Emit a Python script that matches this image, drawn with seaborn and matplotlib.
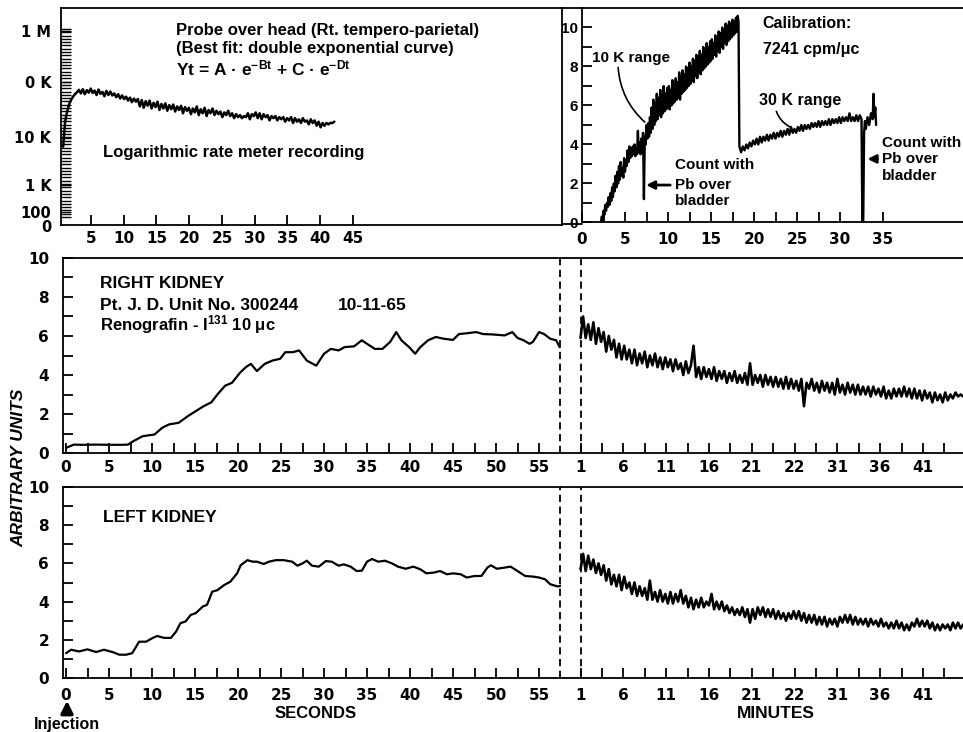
import numpy as np
import matplotlib
matplotlib.use("Agg")
import matplotlib.pyplot as plt
from matplotlib.lines import Line2D
from matplotlib.patches import FancyArrowPatch
from matplotlib.ticker import FixedLocator, NullFormatter
import seaborn as sns

# DATA
# probe over head, logarithmic rate meter (thousands of counts), sampled 0.75 .. 42.15
head_k = [
    6.3, 19, 29, 39, 47, 54, 60, 65, 72, 62,
    74, 60, 71, 64, 76, 63, 70, 58, 73, 61,
    66, 55, 69, 58, 67, 57, 62, 53, 60, 50,
    57, 49, 54, 46, 52, 43, 50, 44, 49, 36,
    47, 34, 45, 37, 46, 33, 42, 35, 44, 31,
    40, 33, 41, 30, 38, 32, 39, 29, 36, 31,
    37, 27, 35, 30, 34, 26, 33, 28, 36, 25,
    32, 27, 34, 24, 31, 27, 33, 25, 30, 26,
    29, 23, 28, 25, 30, 24, 27, 22, 26, 23,
    25, 22, 24, 23, 27, 21, 26, 24, 28, 22,
    27, 21, 26, 23, 25, 20, 24, 22, 24, 20,
    23, 21, 23, 19, 22, 20, 23, 18, 22, 19,
    21, 18, 22, 19, 20, 17, 21, 18, 20, 16,
    19, 15, 18, 16, 18, 17, 18, 18, 19]
head_start, head_end = 0.75, 42.15
meter_ticks = [0, 100, 1e3, 1e4, 1e5, 1e6]
meter_labels = ["0", "100", "1 K", "10 K", "0 K", "1 M"]

# calibration recording, 10 K range (2.2 .. 18.2 min)
range10k = [
    0.0, 0.3, 0.1, 0.6, 0.4, 0.9, 0.6, 1.0, 0.8, 1.3,
    0.9, 1.5, 1.1, 1.8, 1.3, 2.0, 1.6, 2.4, 1.8, 2.6,
    2.0, 2.9, 2.2, 3.1, 2.4, 2.8, 2.3, 3.3, 2.6, 3.2,
    2.9, 3.7, 3.1, 3.9, 3.3, 3.8, 3.4, 3.9, 3.5, 4.0,
    3.4, 3.8, 3.5, 4.7, 3.6, 4.1, 3.5, 4.3, 3.6, 4.6,
    1.2, 4.4, 4.0, 5.0, 4.3, 5.1, 4.4, 5.4, 4.6, 5.9,
    4.8, 6.3, 5.0, 6.1, 5.2, 6.6, 5.3, 6.4, 5.5, 6.8,
    5.4, 6.5, 5.6, 7.0, 5.7, 6.6, 5.8, 6.9, 5.9, 7.0,
    5.8, 6.8, 6.0, 7.3, 6.1, 7.1, 6.2, 7.4, 6.3, 7.2,
    6.4, 7.7, 6.3, 7.5, 6.6, 7.8, 6.7, 7.6, 6.8, 8.0,
    6.9, 7.9, 7.0, 8.2, 7.1, 8.0, 7.3, 8.4, 7.2, 8.3,
    7.5, 8.6, 7.4, 8.5, 7.7, 8.8, 7.6, 8.6, 7.8, 9.0,
    7.9, 8.8, 8.0, 9.2, 8.1, 9.0, 8.2, 9.3, 8.3, 9.4,
    8.4, 9.2, 8.6, 9.6, 8.5, 9.5, 8.8, 9.8, 8.7, 9.7,
    9.0, 10.0, 8.9, 9.9, 9.2, 10.2, 9.1, 10.1, 9.3, 10.3,
    9.4, 10.2, 9.5, 10.4, 9.6, 10.3, 9.7, 10.5, 9.8, 10.6,
    10.3]
# 30 K range (18.3 .. 32.5 min)
range30k = [
    3.9, 3.6, 3.9, 3.7, 4.0, 3.8, 4.1, 3.9, 4.2, 4.0,
    4.3, 4.0, 4.4, 4.1, 4.4, 4.2, 4.5, 4.2, 4.5, 4.3,
    4.6, 4.3, 4.6, 4.4, 4.7, 4.4, 4.7, 4.5, 4.8, 4.5,
    4.9, 4.6, 4.8, 4.6, 4.9, 4.7, 5.0, 4.7, 5.0, 4.8,
    5.0, 4.8, 5.1, 4.9, 5.1, 4.9, 5.2, 4.9, 5.2, 5.0,
    5.2, 5.0, 5.3, 5.0, 5.3, 5.1, 5.3, 5.1, 5.4, 5.1,
    5.4, 5.2, 5.4, 5.2, 5.6, 5.2, 5.4, 5.2, 5.5, 5.2,
    5.5, 5.3]
# second Pb count and end of the recording
tail_t = [32.6, 32.7, 32.8, 32.9, 33.0, 33.2, 33.4, 33.6, 33.8, 33.9, 34.0, 34.1, 34.2]
tail_v = [0.0, 0.1, 4.6, 5.2, 4.8, 5.4, 5.0, 5.6, 5.3, 6.6, 5.4, 5.9, 5.0]

# right kidney, seconds
rk_sec_t = [0, 0.9, 2, 3.5, 5, 6.5, 7.2, 7.8, 8.9, 10.3, 11.2, 12.0, 13.1, 14.2, 15.1, 16.0,
            16.9, 17.6, 18.5, 19.3, 20.2, 20.9, 21.5, 22.2, 23.1, 24.0, 24.9, 25.5, 26.4,
            27.1, 28.0, 29.1, 30.0, 30.8, 31.7, 32.4, 33.5, 34.4, 35.0, 35.9, 36.8, 37.7,
            38.4, 39.0, 39.9, 40.6, 41.2, 42.1, 43.0, 43.9, 45.0, 45.7, 46.8, 47.7, 48.5,
            49.6, 51.0, 51.9, 52.5, 53.2, 53.9, 54.3, 55.0, 55.6, 56.3, 57.0, 57.4]
rk_sec_v = [0.26, 0.43, 0.42, 0.43, 0.42, 0.42, 0.43, 0.6, 0.86, 0.95, 1.3, 1.47, 1.55, 1.9,
            2.15, 2.4, 2.6, 3.0, 3.45, 3.6, 4.1, 4.4, 4.57, 4.2, 4.57, 4.74, 4.83, 5.17, 5.17,
            5.26, 4.74, 4.48, 5.09, 5.34, 5.26, 5.43, 5.47, 5.78, 5.6, 5.34, 5.34, 5.7, 6.2,
            5.78, 5.43, 5.09, 5.43, 5.78, 5.95, 5.86, 5.8, 6.1, 6.15, 6.2, 6.1, 6.08, 6.03,
            6.2, 5.9, 5.78, 5.6, 5.7, 6.2, 6.1, 5.86, 5.78, 5.43]
# right kidney, minutes (sampled 1.0 .. 45.7)
rk_min = [
    5.9, 7.0, 5.9, 6.6, 5.8, 6.7, 5.6, 6.4, 5.7, 6.2,
    5.2, 6.0, 5.3, 5.8, 4.9, 5.6, 4.8, 5.5, 4.8, 5.3,
    4.6, 5.3, 4.5, 5.1, 4.6, 5.2, 4.4, 5.0, 4.5, 5.1,
    4.4, 4.9, 4.3, 4.9, 4.4, 4.8, 4.2, 4.8, 4.3, 4.6,
    4.0, 4.7, 4.1, 4.5, 5.5, 3.9, 4.4, 3.8, 4.4, 3.9,
    4.3, 3.8, 4.4, 3.7, 4.2, 3.8, 4.2, 3.6, 4.1, 3.7,
    4.2, 3.6, 4.0, 3.6, 4.1, 3.5, 4.6, 3.5, 4.0, 3.6,
    4.0, 3.4, 4.0, 3.5, 3.9, 3.4, 3.9, 3.4, 3.8, 3.3,
    3.9, 3.3, 3.8, 3.3, 3.7, 3.2, 3.8, 2.4, 3.6, 3.3,
    3.8, 3.2, 3.6, 3.1, 3.7, 3.2, 3.6, 3.1, 3.6, 3.0,
    3.8, 3.1, 3.5, 3.0, 3.6, 3.1, 3.5, 3.0, 3.5, 3.0,
    3.4, 3.0, 3.4, 2.9, 3.4, 3.0, 3.3, 2.9, 3.4, 2.8,
    3.2, 2.8, 3.3, 2.9, 3.3, 2.9, 3.4, 2.9, 3.3, 2.8,
    3.3, 2.8, 3.2, 2.7, 3.2, 2.8, 3.1, 2.6, 3.1, 2.7,
    3.0, 2.6, 3.1, 2.7, 3.0, 2.8, 3.1, 2.9, 3.0, 2.9]

# left kidney, seconds
lk_sec_t = [0, 0.6, 1.5, 2.5, 3.5, 4.4, 5.4, 6.2, 7.0, 7.7, 8.5, 9.3, 10.1, 10.6, 11.4, 12.2,
            12.8, 13.3, 13.9, 14.5, 15.1, 15.9, 16.4, 17.0, 17.6, 18.4, 19.1, 19.9, 20.3,
            21.1, 21.7, 22.2, 23.0, 23.6, 24.4, 25.3, 26.3, 26.9, 27.5, 28.0, 28.6, 29.4,
            30.2, 30.9, 31.7, 32.3, 33.1, 33.8, 34.4, 35.0, 35.6, 36.3, 37.1, 37.9, 38.6,
            39.5, 40.4, 41.2, 41.9, 42.8, 43.5, 44.3, 45.0, 45.9, 46.6, 47.5, 48.3, 49.0,
            49.4, 50.1, 51.0, 51.7, 52.5, 53.4, 54.3, 55.0, 55.7, 56.3, 57.2, 57.5]
lk_sec_v = [1.3, 1.48, 1.39, 1.5, 1.36, 1.48, 1.36, 1.22, 1.22, 1.3, 1.9, 1.9, 2.1, 2.2, 2.1,
            2.1, 2.43, 2.87, 2.96, 3.3, 3.4, 3.74, 3.83, 4.52, 4.6, 4.87, 5.04, 5.48, 5.9,
            6.17, 6.09, 6.09, 5.97, 6.09, 6.17, 6.17, 6.09, 5.88, 6.0, 6.14, 5.88, 5.83, 6.12,
            6.09, 5.88, 5.95, 5.83, 5.6, 5.62, 6.09, 6.23, 6.09, 6.14, 6.0, 5.83, 5.72, 5.83,
            5.69, 5.48, 5.52, 5.6, 5.43, 5.48, 5.43, 5.26, 5.34, 5.34, 5.78, 5.9, 5.72, 5.78,
            5.83, 5.6, 5.34, 5.31, 5.26, 5.17, 4.91, 4.79, 4.83]
# left kidney, minutes (sampled 1.0 .. 45.7)
lk_min = [
    5.7, 6.5, 5.6, 6.4, 5.7, 6.2, 5.5, 6.0, 5.4, 5.9,
    5.1, 5.7, 4.9, 5.4, 4.8, 5.4, 4.6, 5.3, 4.7, 5.0,
    4.4, 5.0, 4.3, 4.8, 4.3, 4.7, 4.1, 5.1, 4.1, 4.5,
    4.0, 4.6, 4.0, 4.4, 3.9, 4.5, 3.9, 4.4, 4.0, 4.6,
    3.9, 4.3, 3.7, 4.2, 3.6, 4.1, 3.7, 4.2, 3.7, 4.0,
    3.8, 4.4, 3.6, 4.0, 3.6, 4.0, 3.5, 3.8, 3.4, 3.7,
    3.3, 3.6, 3.3, 3.7, 3.2, 3.6, 2.9, 3.6, 3.1, 3.7,
    3.3, 3.7, 3.2, 3.6, 3.2, 3.6, 3.1, 3.5, 3.1, 3.4,
    3.0, 3.4, 3.1, 3.5, 3.1, 3.5, 3.0, 3.4, 2.9, 3.3,
    2.9, 3.3, 2.8, 3.2, 2.8, 3.2, 2.7, 3.1, 2.8, 3.1,
    2.7, 3.2, 2.9, 3.3, 2.9, 3.3, 2.8, 3.2, 2.8, 3.1,
    2.8, 3.1, 2.7, 3.1, 2.8, 3.0, 2.7, 3.1, 2.7, 2.9,
    2.6, 2.9, 2.6, 3.0, 2.6, 2.9, 2.5, 2.8, 2.5, 2.9,
    2.7, 3.1, 2.7, 3.0, 2.7, 3.0, 2.6, 2.9, 2.5, 2.8,
    2.5, 2.8, 2.6, 2.8, 2.5, 2.9, 2.6, 2.9, 2.6, 2.8]
min_start, min_end = 1.0, 45.7

sec_ticks = [0, 5, 10, 15, 20, 25, 30, 35, 40, 45, 50, 55]
minute_ticks = [1, 6, 11, 16, 21, 26, 31, 36, 41]
minute_labels = ["1", "6", "11", "16", "21", "22", "31", "36", "41"]

# STYLE
sns.set_theme(style="ticks")
plt.rcParams["font.family"] = ["DejaVu Sans"]
plt.rcParams["font.weight"] = "bold"
plt.rcParams["text.color"] = "black"
plt.rcParams["mathtext.fontset"] = "custom"
plt.rcParams["mathtext.rm"] = "Liberation Sans:bold"
plt.rcParams["mathtext.bf"] = "Liberation Sans:bold"
plt.rcParams["mathtext.it"] = "Liberation Sans:bold"
plt.rcParams["mathtext.default"] = "rm"

LETTER = ["Liberation Sans", "DejaVu Sans"]   # lettering for the notes
W, H = 963, 732
LW = 1.3
DASH = (0, (4, 2.5))


def rect(x0, y0, x1, y1):
    return [x0 / W, 1 - y1 / H, (x1 - x0) / W, (y1 - y0) / H]


def fig_text(x, y, s, **kw):
    kw.setdefault("va", "center")
    kw.setdefault("ha", "left")
    kw.setdefault("family", LETTER)
    kw.setdefault("color", "black")
    fig.text(x / W, 1 - y / H, s, **kw)


def style_axes(ax):
    ax.set(xlabel="", ylabel="")
    for s in ax.spines.values():
        s.set_linewidth(LW)
        s.set_color("black")
    ax.tick_params(which="both", direction="in", length=7, width=LW,
                   colors="black", labelsize=11)


# rate meter scale: log decades of unequal height
METER_LOGS = [0, 2, 3, 4, 5, 6, 7]
METER_POS = [0, 12.5, 39.5, 87.5, 142.5, 193.5, 245]


def meter_fwd(v):
    return np.interp(np.log10(np.maximum(v, 1.0)), METER_LOGS, METER_POS)


def meter_inv(p):
    return 10 ** np.interp(p, METER_POS, METER_LOGS)


fig = plt.figure(figsize=(9.63, 7.32), dpi=100)

# top left: probe over head
ax_head = fig.add_axes(rect(61, 8, 562, 224.5))
head_t = np.linspace(head_start, head_end, len(head_k))
sns.lineplot(x=head_t, y=np.array(head_k) * 1000, ax=ax_head, color="black",
             linewidth=1.8, estimator=None, sort=False)
ax_head.set_yscale("function", functions=(meter_fwd, meter_inv))
ax_head.set_xlim(0.42, 0.42 + 501 / 6.55)
ax_head.set_ylim(0, meter_inv(216.5))
style_axes(ax_head)
ax_head.set_xticks(list(range(5, 50, 5)))
ax_head.set_yticks(meter_ticks[1:], labels=meter_labels[1:])
ax_head.yaxis.set_minor_locator(FixedLocator(meter_inv(np.arange(7.5, 197, 3.3))))
ax_head.yaxis.set_minor_formatter(NullFormatter())
ax_head.xaxis.set_minor_locator(FixedLocator([]))
ax_head.tick_params(axis="y", which="both", length=7.5, width=1.0, pad=7, labelsize=10.5)
ax_head.tick_params(axis="x", pad=5)
# the zero of the meter sits just under the 100 mark
fig_text(51, 228, meter_labels[0], size=10.5, ha="right", family="DejaVu Sans")

fig_text(176, 31, "Probe over head (Rt. tempero-parietal)", size=12)
fig_text(176, 49, "(Best fit: double exponential curve)", size=12)
fig_text(176, 68, r"Yt = A · e$^{-Bt}$ + C · e$^{-Dt}$", size=12.5)
fig_text(103, 153, "Logarithmic rate meter recording", size=12)

# top right: calibration recording
ax_cal = fig.add_axes(rect(582, 8, 963, 222.5))
cal_t = np.concatenate([np.linspace(2.2, 18.2, len(range10k)),
                        np.linspace(18.3, 32.5, len(range30k)), tail_t])
cal_v = np.concatenate([range10k, range30k, tail_v])
sns.lineplot(x=cal_t, y=cal_v, ax=ax_cal, color="black", linewidth=1.7,
             estimator=None, sort=False)
ax_cal.set_xlim(0, 381 / 8.6)
ax_cal.set_ylim(0, 214.5 / 19.5)
style_axes(ax_cal)
ax_cal.spines["right"].set_visible(False)
ax_cal.set_xticks(list(range(0, 40, 5)))
ax_cal.xaxis.set_minor_locator(FixedLocator(np.arange(2.5, 35, 5)))
ax_cal.set_yticks(list(range(0, 11, 2)))
ax_cal.yaxis.set_minor_locator(FixedLocator(list(range(1, 11, 2))))
for lab in ax_cal.get_yticklabels():
    lab.set_family(LETTER)
    lab.set_fontsize(11)
ax_cal.tick_params(axis="y", pad=3)
ax_cal.tick_params(axis="x", pad=7)

note = dict(size=11, va="center", family=LETTER, color="black")
ax_cal.text(1.2, 8.45, "10 K range", **note)
ax_cal.annotate("", xy=(7.3, 5.15), xytext=(4.2, 7.95),
                arrowprops=dict(arrowstyle="-", color="black", lw=1.2,
                                connectionstyle="arc3,rad=0.2", shrinkA=0, shrinkB=0))
ax_cal.text(21.0, 10.2, "Calibration:", size=11.5, va="center", family=LETTER, color="black")
ax_cal.text(21.0, 8.85, "7241 cpm/μc", size=11.5, va="center", family=LETTER, color="black")
ax_cal.text(20.6, 6.28, "30 K range", size=11.5, va="center", family=LETTER, color="black")
ax_cal.annotate("", xy=(24.2, 4.9), xytext=(22.6, 5.7),
                arrowprops=dict(arrowstyle="-", color="black", lw=1.2,
                                connectionstyle="arc3,rad=0.2", shrinkA=0, shrinkB=0))
pb_arrow = dict(arrowstyle="-|>", color="black", lw=2, mutation_scale=12,
                shrinkA=1, shrinkB=0)
ax_cal.text(10.8, 2.95, "Count with", **note)
ax_cal.annotate("Pb over", xy=(7.45, 1.92), xytext=(10.8, 1.92), ha="left",
                arrowprops=pb_arrow, **note)
ax_cal.text(10.8, 1.12, "bladder", **note)
ax_cal.text(34.9, 4.08, "Count with", **note)
ax_cal.annotate("Pb over", xy=(33.2, 3.26), xytext=(34.9, 3.26), ha="left",
                arrowprops=pb_arrow, **note)
ax_cal.text(34.9, 2.4, "bladder", **note)

# close the gap between the two top panels
for yy in (8, 223.5):
    fig.add_artist(Line2D([562 / W, 582 / W], [1 - yy / H] * 2, color="black", lw=LW))

# kidney rows
rows = [
    (258, 453, rk_sec_t, rk_sec_v, rk_min, 5),
    (487, 678, lk_sec_t, lk_sec_v, lk_min, 7),
]
for top, bottom, sec_t, sec_v, min_v, xpad in rows:
    ax_s = fig.add_axes(rect(63, top, 560.5, bottom))
    sns.lineplot(x=sec_t, y=sec_v, ax=ax_s, color="black", linewidth=1.6,
                 estimator=None, sort=False)
    ax_s.set_xlim(-0.35, 57.5)
    ax_s.set_ylim(0, 10)
    style_axes(ax_s)
    ax_s.spines["right"].set_visible(False)
    ax_s.axvline(57.5, color="black", lw=LW, ls=DASH, clip_on=False)
    ax_s.set_xticks(sec_ticks)
    ax_s.xaxis.set_minor_locator(FixedLocator(np.arange(2.5, 55, 5)))
    ax_s.set_yticks(list(range(0, 11, 2)))
    ax_s.yaxis.set_minor_locator(FixedLocator(list(range(1, 11, 2))))
    ax_s.tick_params(axis="y", pad=10)
    ax_s.tick_params(axis="x", pad=xpad)

    ax_m = fig.add_axes(rect(560.5, top, 963, bottom))
    min_t = np.linspace(min_start, min_end, len(min_v))
    sns.lineplot(x=min_t, y=min_v, ax=ax_m, color="black", linewidth=1.9,
                 estimator=None, sort=False)
    ax_m.set_xlim(1 - 20 / 8.55, 1 + 382 / 8.55)
    ax_m.set_ylim(0, 10)
    style_axes(ax_m)
    ax_m.spines["left"].set_visible(False)
    ax_m.spines["right"].set_visible(False)
    ax_m.axvline(1, color="black", lw=LW, ls=DASH)
    ax_m.set_xticks(minute_ticks, labels=minute_labels)
    ax_m.xaxis.set_minor_locator(FixedLocator(np.arange(3.5, 45, 5)))
    ax_m.set_yticks([])
    ax_m.tick_params(axis="x", pad=xpad)

fig_text(100, 284, "RIGHT KIDNEY", size=12.5)
fig_text(100, 306, "Pt. J. D. Unit No. 300244", size=12.5)
fig_text(338, 306, "10-11-65", size=12.5)
fig_text(100, 325, r"Renografin - I$^{131}$ 10 μc", size=12)
fig_text(103, 517, "LEFT KIDNEY", size=12.5)

fig_text(19, 468, "ARBITRARY UNITS", size=12.5, style="italic", rotation=90, ha="center")
fig_text(316, 713, "SECONDS", size=12, ha="center")
fig_text(776, 713, "MINUTES", size=12.5, ha="center")
fig_text(67, 725, "Injection", size=11.5, ha="center")
fig.add_artist(FancyArrowPatch((67 / W, 1 - 714 / H), (67 / W, 1 - 698 / H),
                               transform=fig.transFigure, arrowstyle="-|>",
                               mutation_scale=18, lw=2.5, color="black"))

fig.savefig("out.png", dpi=100, facecolor="white")
